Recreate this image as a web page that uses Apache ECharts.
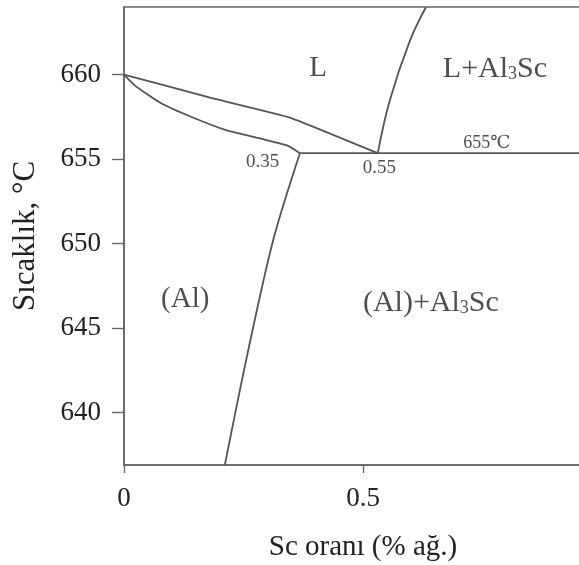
<!DOCTYPE html>
<html>
<head>
<meta charset="utf-8">
<script src="https://cdn.jsdelivr.net/npm/echarts@6/dist/echarts.min.js"></script>
<style>
html,body{margin:0;padding:0;background:#fff;}
#chart{width:579px;height:565px;}
</style>
</head>
<body>
<div id="chart"></div>
<script>
// ---- data (Sc wt.% , temperature °C) ----
const liquidusX = [0, 0.18, 0.347, 0.531];
const liquidusY = [660, 658.64, 657.46, 655.35];

const solidusX = [0, 0.023, 0.075, 0.144, 0.215, 0.285, 0.341, 0.368];
const solidusY = [660, 659.35, 658.35, 657.46, 656.7, 656.22, 655.81, 655.35];

const solvusX = [0.368, 0.312, 0.257, 0.211];
const solvusY = [655.35, 650.2, 643.3, 636.9];

const al3scLiqX = [0.531, 0.556, 0.598, 0.632];
const al3scLiqY = [655.35, 658.47, 662.0, 664.0];

const eutecticX = [0.368, 1];
const eutecticY = [655.35, 655.35];

const xTicks = [0, 0.5, 1];
const yTicks = [640, 645, 650, 655, 660];

const annotText = ['L', '{a|L+Al}{s|3}{a|Sc}', '655℃', '0.35', '0.55', '(Al)', '{a|(Al)+Al}{s|3}{a|Sc}'];
const annotX = [0.406, 0.776, 0.759, 0.29, 0.534, 0.128, 0.642];
const annotY = [660.35, 660.35, 655.93, 654.85, 654.45, 646.67, 646.5];

// ---- styles ----
const FONT = '"Liberation Serif", "DejaVu Serif", serif';
const TXT = '#222';
const LINE = '#555';
const annotSizes = [29, 30, 18, 19, 19, 29, 30];

function pairs(xs, ys) { return xs.map((x, i) => [x, ys[i]]); }
function lineSeries(xs, ys, smooth) {
  return {
    type: 'line', data: pairs(xs, ys), symbol: 'none', smooth: smooth,
    lineStyle: { color: LINE, width: 1.8 }, clip: true, silent: true
  };
}

const chart = echarts.init(document.getElementById('chart'));
chart.setOption({
  animation: false,
  backgroundColor: '#fff',
  grid: { left: 124, right: -23, top: 7, bottom: 100, show: true, borderColor: '#666', borderWidth: 1.6,
    containLabel: false, outerBoundsMode: 'none' },
  xAxis: {
    type: 'value', min: 0, max: 1, interval: 0.5,
    name: 'Sc oranı (% ağ.)', nameLocation: 'middle', nameGap: 68,
    nameTextStyle: { fontFamily: FONT, fontSize: 29, color: TXT },
    axisLine: { show: true, lineStyle: { color: '#666', width: 1.6 } },
    axisTick: { show: true, length: 8, customValues: xTicks, lineStyle: { color: '#666', width: 1.4 } },
    axisLabel: { customValues: xTicks, margin: 20, fontFamily: FONT, fontSize: 27, color: TXT,
      formatter: v => String(v) },
    splitLine: { show: false }
  },
  yAxis: {
    type: 'value', min: 636.9, max: 664,
    name: 'Sıcaklık, °C', nameLocation: 'middle', nameGap: 83, nameRotate: 90,
    nameTextStyle: { fontFamily: FONT, fontSize: 31, color: TXT },
    axisLine: { show: true, lineStyle: { color: '#666', width: 1.6 } },
    axisTick: { show: true, length: 12, customValues: yTicks, lineStyle: { color: '#666', width: 1.4 } },
    axisLabel: { customValues: yTicks, margin: 23, fontFamily: FONT, fontSize: 27, color: TXT },
    splitLine: { show: false }
  },
  series: [
    lineSeries(liquidusX, liquidusY, 0.1),
    lineSeries(solidusX, solidusY, 0.15),
    lineSeries(solvusX, solvusY, 0.3),
    lineSeries(al3scLiqX, al3scLiqY, 0.4),
    lineSeries(eutecticX, eutecticY, false),
    {
      type: 'scatter', symbolSize: 0, silent: true,
      data: annotText.map((t, i) => ({
        value: [annotX[i], annotY[i]],
        label: {
          show: true, formatter: t, position: [0, 0], align: 'center', verticalAlign: 'middle',
          fontFamily: FONT, fontSize: annotSizes[i], color: TXT,
          rich: {
            a: { fontFamily: FONT, fontSize: annotSizes[i], color: TXT },
            s: { fontFamily: FONT, fontSize: Math.round(annotSizes[i] * 0.6), color: TXT, verticalAlign: 'bottom' }
          }
        }
      }))
    }
  ]
});
</script>
</body>
</html>
